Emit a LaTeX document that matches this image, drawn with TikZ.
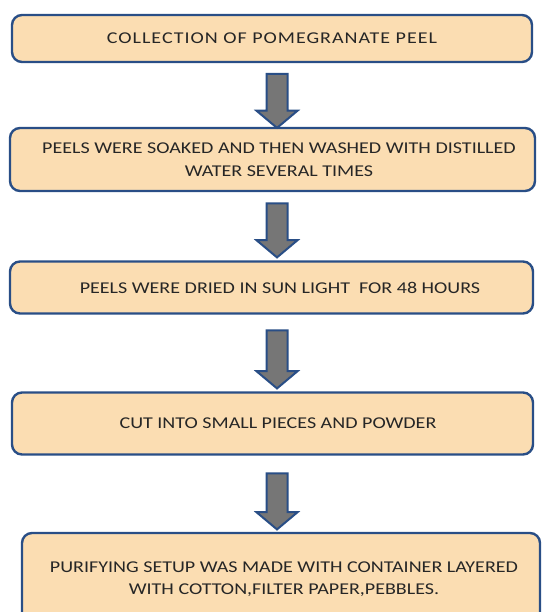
\documentclass[tikz,border=0pt]{standalone}
\usepackage{fontspec}
\setmainfont{Carlito}[FakeStretch=1.215]
\usepackage{tikz}
\usetikzlibrary{shapes.arrows}

\definecolor{peach}{RGB}{251,221,178}
\definecolor{edgeblue}{RGB}{41,78,134}
\definecolor{shaftgray}{RGB}{118,118,118}
\definecolor{inkgray}{RGB}{38,38,38}

\begin{document}
\begin{tikzpicture}[x=1pt, y=-1pt]
        \tikzset{BoxStyle/.style={draw=edgeblue, line width=2.4pt, fill=peach,
            rounded corners=10pt, align=center, text=inkgray, inner sep=0pt,
            font=\fontsize{16.5}{22.5}\selectfont}}
        \tikzset{ArrowStyle/.style={shape=single arrow, rotate=-90, draw=edgeblue,
            line width=2pt, fill=shaftgray, inner sep=9.5pt,
            single arrow head extend=10pt, single arrow tip angle=100,
            minimum height=54pt}}

        \useasboundingbox (0,0) rectangle (541,612);
        \clip (0,0) rectangle (541,612);

        % the text sits a little right of the middle in most boxes
        \node[BoxStyle, minimum width=520pt, minimum height=47pt] (collect) at (272,38.5)
          {\addfontfeature{LetterSpace=6}COLLECTION OF POMEGRANATE PEEL};
        \node[BoxStyle, minimum width=525pt, minimum height=63pt] (soak) at (272.5,159.5)
          {\hspace*{13pt}PEELS WERE SOAKED AND THEN WASHED WITH DISTILLED\\
           \hspace*{13pt}WATER SEVERAL TIMES};
        \node[BoxStyle, minimum width=523pt, minimum height=52pt] (dry) at (271.5,287.5)
          {\hspace*{17pt}PEELS WERE DRIED IN SUN LIGHT\ \ FOR 48 HOURS};
        \node[BoxStyle, minimum width=521pt, minimum height=62pt] (cut) at (272.5,423.5)
          {\hspace*{11pt}CUT INTO SMALL PIECES AND POWDER};
        % the last box runs off the bottom edge of the page
        \node[BoxStyle, minimum width=518pt, minimum height=92pt] (purify) at (281,579)
          {\hspace*{6pt}PURIFYING SETUP WAS MADE WITH CONTAINER LAYERED\\
           \hspace*{6pt}WITH COTTON,FILTER PAPER,PEBBLES.};

        \node[ArrowStyle] (ar1) at (277,96.5) {};
        \node[ArrowStyle] (ar2) at (277,226) {};
        \node[ArrowStyle, minimum height=58pt] (ar3) at (277,355) {};
        \node[ArrowStyle, minimum height=56pt] (ar4) at (277,497) {};
      \end{tikzpicture}
\end{document}
